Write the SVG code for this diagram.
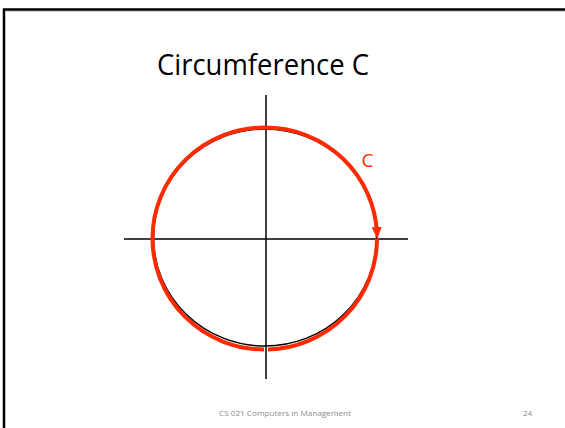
<svg xmlns="http://www.w3.org/2000/svg" width="565" height="428" viewBox="0 0 565 428">
<style>
.axis{stroke:#000;stroke-width:1.5;fill:none}
.red{stroke:#ff2a00;stroke-width:4;fill:none}
.foot{font-family:"Open Sans",sans-serif;font-size:8px;fill:#8c8c8c}
</style>
<defs>
<marker id="ah" markerWidth="12" markerHeight="12" refX="6" refY="6" orient="auto" markerUnits="userSpaceOnUse" viewBox="0 0 12 12">
<path d="M0,1 L12,6 L0,11 Z" fill="#ff2a00"/>
</marker>
</defs>
<rect x="4" y="9.5" width="600" height="460" fill="#fff" stroke="#000" stroke-width="2.5"/>
<line x1="5" y1="11.5" x2="565" y2="11.5" stroke="#ccc" stroke-width="1"/>
<text x="263" y="75" font-family="Open Sans, sans-serif" font-size="29" text-anchor="middle" textLength="212" lengthAdjust="spacingAndGlyphs" fill="#000">Circumference C</text>
<g id="axes">
<line class="axis" x1="266" y1="95" x2="266" y2="379"/>
<line class="axis" x1="124" y1="239" x2="408" y2="239"/>
</g>
<g id="circle">
<ellipse cx="265" cy="237.5" rx="111.5" ry="108.5" fill="none" stroke="#000" stroke-width="1.5"/>
<path class="red" d="M264,349.5 A112,111 0 0 1 265,127.5 A112,111 0 0 1 377,233" marker-end="url(#ah)"/>
<path class="red" d="M377,238.5 A112,111 0 0 1 268,349.5"/>
</g>
<text x="367.5" y="167" font-family="Open Sans, sans-serif" font-size="19" text-anchor="middle" fill="#ff2a00">C</text>
<text class="foot" x="219" y="416" textLength="132" lengthAdjust="spacingAndGlyphs">CS 021 Computers in Management</text>
<text class="foot" x="523" y="416">24</text>
</svg>
